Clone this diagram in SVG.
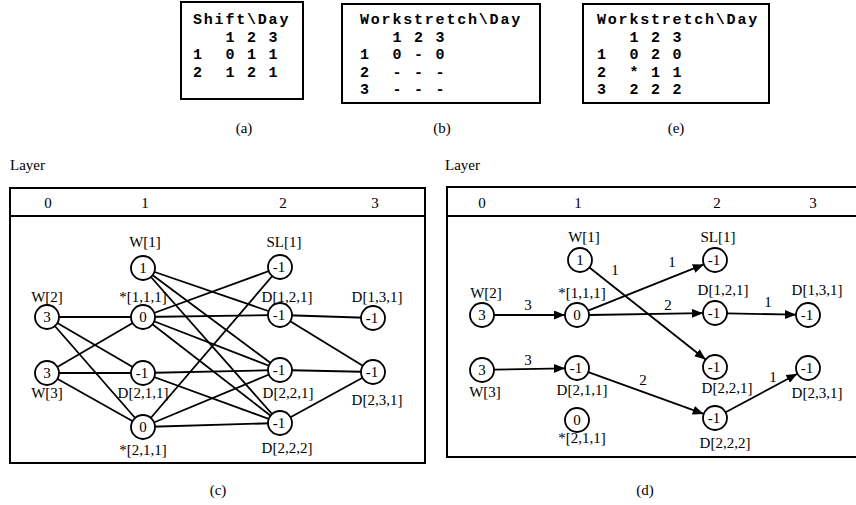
<svg xmlns="http://www.w3.org/2000/svg" width="856" height="505" viewBox="0 0 856 505">
<style>
.bx{fill:none;stroke:#000;stroke-width:2}
.mono{font-family:"Liberation Mono",monospace;font-weight:bold;font-size:15px;letter-spacing:1.8px;white-space:pre}
.t{font-family:"Liberation Serif",serif;font-size:15px;text-anchor:middle}
.tl{font-family:"Liberation Serif",serif;font-size:15px}
.nd circle{fill:#fff;stroke:#000;stroke-width:1.8}
.nd text{font-family:"Liberation Serif",serif;font-size:15px;text-anchor:middle}
.e line{stroke:#000;stroke-width:1.8}
.ea line{stroke:#000;stroke-width:1.8;marker-end:url(#ah)}
</style>
<defs>
<marker id="ah" markerUnits="userSpaceOnUse" markerWidth="12" markerHeight="10" refX="11" refY="4.5" orient="auto">
<path d="M0,0 L11,4.5 L0,9 z" fill="#000"/>
</marker>
</defs>

<!-- tables -->
<g id="table-a">
<rect class="bx" x="181" y="2" width="122" height="97"/>
<text class="mono" x="193" y="24" xml:space="preserve">Shift\Day</text>
<text class="mono" x="193" y="41.5" xml:space="preserve">   1 2 3</text>
<text class="mono" x="193" y="59" xml:space="preserve">1  0 1 1</text>
<text class="mono" x="193" y="76.5" xml:space="preserve">2  1 2 1</text>
</g>
<g id="table-b">
<rect class="bx" x="342" y="4" width="198" height="99"/>
<text class="mono" x="360" y="24" xml:space="preserve">Workstretch\Day</text>
<text class="mono" x="360" y="41.5" xml:space="preserve">   1 2 3</text>
<text class="mono" x="360" y="59" xml:space="preserve">1  0 - 0</text>
<text class="mono" x="360" y="76.5" xml:space="preserve">2  - - -</text>
<text class="mono" x="360" y="94" xml:space="preserve">3  - - -</text>
</g>
<g id="table-e">
<rect class="bx" x="583" y="4" width="186" height="99"/>
<text class="mono" x="597" y="24" xml:space="preserve">Workstretch\Day</text>
<text class="mono" x="597" y="41.5" xml:space="preserve">   1 2 3</text>
<text class="mono" x="597" y="59" xml:space="preserve">1  0 2 0</text>
<text class="mono" x="597" y="76.5" xml:space="preserve">2  * 1 1</text>
<text class="mono" x="597" y="94" xml:space="preserve">3  2 2 2</text>
</g>
<text class="t" x="244" y="133">(a)</text>
<text class="t" x="442" y="133">(b)</text>
<text class="t" x="676" y="133">(e)</text>

<!-- panel c -->
<g id="panel-c">
<text class="tl" x="10" y="170">Layer</text>
<rect class="bx" x="10" y="188" width="415" height="275"/>
<line x1="10" y1="216" x2="425" y2="216" stroke="#000" stroke-width="2"/>
<text class="t" x="48" y="208">0</text>
<text class="t" x="145" y="208">1</text>
<text class="t" x="283" y="208">2</text>
<text class="t" x="375" y="208">3</text>
</g>
<g id="connectors-c" class="e">
<line x1="47" y1="317" x2="143" y2="317"/>
<line x1="47" y1="317" x2="143" y2="373"/>
<line x1="47" y1="317" x2="143" y2="427"/>
<line x1="47" y1="373" x2="143" y2="317"/>
<line x1="47" y1="373" x2="143" y2="373"/>
<line x1="47" y1="373" x2="143" y2="427"/>
<line x1="143" y1="268" x2="280" y2="315"/>
<line x1="143" y1="268" x2="280" y2="370"/>
<line x1="143" y1="268" x2="280" y2="423"/>
<line x1="143" y1="317" x2="280" y2="267"/>
<line x1="143" y1="317" x2="280" y2="315"/>
<line x1="143" y1="317" x2="280" y2="370"/>
<line x1="143" y1="317" x2="280" y2="423"/>
<line x1="143" y1="373" x2="280" y2="370"/>
<line x1="143" y1="373" x2="280" y2="423"/>
<line x1="143" y1="427" x2="280" y2="267"/>
<line x1="143" y1="427" x2="280" y2="370"/>
<line x1="143" y1="427" x2="280" y2="423"/>
<line x1="280" y1="315" x2="373" y2="318"/>
<line x1="280" y1="315" x2="373" y2="372"/>
<line x1="280" y1="370" x2="373" y2="372"/>
<line x1="280" y1="423" x2="373" y2="372"/>
</g>
<g id="c-W1" class="nd"><circle cx="143" cy="268" r="12"/><text x="143" y="273">1</text><text x="145" y="247">W[1]</text></g>
<g id="c-W2" class="nd"><circle cx="47" cy="317" r="12"/><text x="47" y="322">3</text><text x="47" y="302">W[2]</text></g>
<g id="c-S111" class="nd"><circle cx="143" cy="317" r="12"/><text x="143" y="322">0</text><text x="143" y="302">*[1,1,1]</text></g>
<g id="c-W3" class="nd"><circle cx="47" cy="373" r="12"/><text x="47" y="378">3</text><text x="47" y="398">W[3]</text></g>
<g id="c-D211" class="nd"><circle cx="143" cy="373" r="12"/><text x="142" y="378">-1</text><text x="143" y="398">D[2,1,1]</text></g>
<g id="c-S211" class="nd"><circle cx="143" cy="427" r="12"/><text x="143" y="432">0</text><text x="143" y="455">*[2,1,1]</text></g>
<g id="c-SL1" class="nd"><circle cx="280" cy="267" r="12"/><text x="279" y="272">-1</text><text x="284" y="247">SL[1]</text></g>
<g id="c-D121" class="nd"><circle cx="280" cy="315" r="12"/><text x="279" y="320">-1</text><text x="287" y="302">D[1,2,1]</text></g>
<g id="c-D131" class="nd"><circle cx="373" cy="318" r="12"/><text x="372" y="323">-1</text><text x="377" y="302">D[1,3,1]</text></g>
<g id="c-D221" class="nd"><circle cx="280" cy="370" r="12"/><text x="279" y="375">-1</text><text x="288" y="398">D[2,2,1]</text></g>
<g id="c-D231" class="nd"><circle cx="373" cy="372" r="12"/><text x="372" y="377">-1</text><text x="377" y="405">D[2,3,1]</text></g>
<g id="c-D222" class="nd"><circle cx="280" cy="423" r="12"/><text x="279" y="428">-1</text><text x="287" y="453">D[2,2,2]</text></g>
<text class="t" x="218" y="495">(c)</text>

<!-- panel d -->
<g id="panel-d">
<text class="tl" x="445" y="170">Layer</text>
<rect class="bx" x="447" y="187" width="420" height="270"/>
<line x1="447" y1="216" x2="856" y2="216" stroke="#000" stroke-width="2"/>
<text class="t" x="482" y="208">0</text>
<text class="t" x="578" y="208">1</text>
<text class="t" x="717" y="208">2</text>
<text class="t" x="813" y="208">3</text>
</g>
<g id="connectors-d" class="ea">
<line x1="494" y1="315" x2="565" y2="315"/>
<line x1="494" y1="369.7" x2="565" y2="368.3"/>
<line x1="589.4" y1="267.5" x2="705.6" y2="359.5"/>
<line x1="588.1" y1="310.6" x2="703.9" y2="264.4"/>
<line x1="589" y1="315" x2="703" y2="313.2"/>
<line x1="727" y1="313.3" x2="796" y2="314.7"/>
<line x1="588.3" y1="372.1" x2="703.7" y2="413.9"/>
<line x1="725.6" y1="412.3" x2="797.4" y2="373.7"/>
</g>
<g id="edge-labels-d" class="t">
<text x="528" y="310">3</text>
<text x="528" y="365">3</text>
<text x="615" y="275">1</text>
<text x="672" y="267">1</text>
<text x="668" y="310">2</text>
<text x="768" y="307">1</text>
<text x="643" y="385">2</text>
<text x="773" y="382">1</text>
</g>
<g id="d-W1" class="nd"><circle cx="580" cy="260" r="12"/><text x="580" y="265">1</text><text x="584" y="242">W[1]</text></g>
<g id="d-W2" class="nd"><circle cx="482" cy="315" r="12"/><text x="482" y="320">3</text><text x="486" y="298">W[2]</text></g>
<g id="d-S111" class="nd"><circle cx="577" cy="315" r="12"/><text x="577" y="320">0</text><text x="582" y="298">*[1,1,1]</text></g>
<g id="d-W3" class="nd"><circle cx="482" cy="370" r="12"/><text x="482" y="375">3</text><text x="485" y="397">W[3]</text></g>
<g id="d-D211" class="nd"><circle cx="577" cy="368" r="12"/><text x="576" y="373">-1</text><text x="582" y="395">D[2,1,1]</text></g>
<g id="d-S211" class="nd"><circle cx="577" cy="420" r="12"/><text x="577" y="425">0</text><text x="582" y="443">*[2,1,1]</text></g>
<g id="d-SL1" class="nd"><circle cx="715" cy="260" r="12"/><text x="714" y="265">-1</text><text x="718" y="242">SL[1]</text></g>
<g id="d-D121" class="nd"><circle cx="715" cy="313" r="12"/><text x="714" y="318">-1</text><text x="723" y="295">D[1,2,1]</text></g>
<g id="d-D131" class="nd"><circle cx="808" cy="315" r="12"/><text x="807" y="320">-1</text><text x="817" y="295">D[1,3,1]</text></g>
<g id="d-D221" class="nd"><circle cx="715" cy="367" r="12"/><text x="714" y="372">-1</text><text x="727" y="393">D[2,2,1]</text></g>
<g id="d-D231" class="nd"><circle cx="808" cy="368" r="12"/><text x="807" y="373">-1</text><text x="817" y="398">D[2,3,1]</text></g>
<g id="d-D222" class="nd"><circle cx="715" cy="418" r="12"/><text x="714" y="423">-1</text><text x="725" y="448">D[2,2,2]</text></g>
<text class="t" x="645" y="495">(d)</text>
</svg>
